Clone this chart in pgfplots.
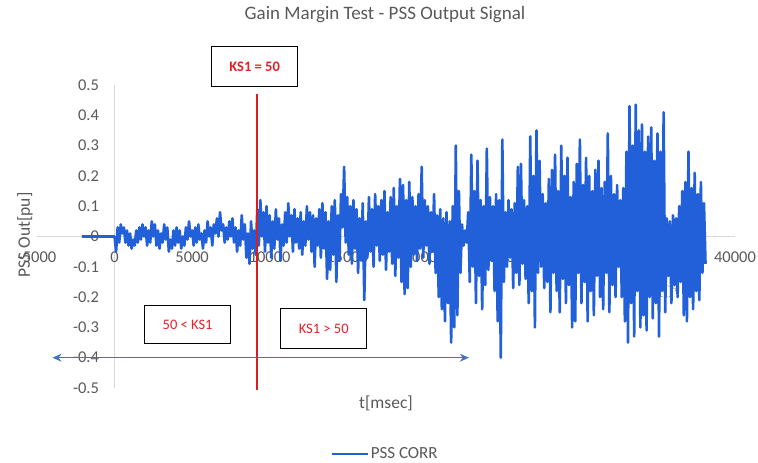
\documentclass[border=0pt]{standalone}
\usepackage{pgfplots}
\pgfplotsset{compat=1.18}
\usepackage{fontspec}
\setmainfont{Carlito}
\usetikzlibrary{arrows.meta}
\definecolor{tickgray}{HTML}{595959}
\definecolor{axisgray}{HTML}{D9D9D9}
\definecolor{sigblue}{HTML}{2160D8}
\definecolor{ksred}{HTML}{E8202A}
\definecolor{linered}{HTML}{D81E1E}
\definecolor{arrowblue}{HTML}{4472C4}
\begin{document}
\begin{tikzpicture}
\path[use as bounding box] (-37pt,-75pt) rectangle (721pt,388pt);
\begin{axis}[
  at={(0pt,0pt)}, anchor=south west,
  scale only axis, width=698pt, height=303pt,
  xmin=-5000, xmax=40000, ymin=-0.5, ymax=0.5,
  enlargelimits=false, clip=false,
  axis lines=middle,
  axis line style={-, draw=axisgray, line width=0.8pt},
  hide obscured x ticks=false, hide obscured y ticks=false,
  major tick length=0pt,
  xtick={-5000,0,5000,10000,15000,20000,25000,30000,35000,40000},
  xticklabels={-5000,0,5000,10000,15000,20000,25000,30000,35000,40000},
  ytick={-0.5,-0.4,-0.3,-0.2,-0.1,0,0.1,0.2,0.3,0.4,0.5},
  yticklabels={-0.5,-0.4,-0.3,-0.2,-0.1,0,0.1,0.2,0.3,0.4,0.5},
  tick label style={font=\fontsize{16.5}{18}\selectfont, text=tickgray},
  xticklabel style={anchor=north, yshift=-12pt},
  yticklabel style={anchor=east, xshift=-12pt},
  title={Gain Margin Test - PSS Output Signal},
  title style={at={(axis description cs:0.4986,1.214)}, anchor=center, font=\fontsize{19}{21}\selectfont, text=tickgray},
  xlabel={t[msec]},
  every axis x label/.style={at={(axis description cs:0.5,-0.0495)}, anchor=center, font=\fontsize{17.5}{19}\selectfont, text=tickgray},
  ylabel={PSS Out[pu]},
  every axis y label/.style={at={(axis description cs:-0.0172,0.505)}, anchor=center, rotate=90, font=\fontsize{17.5}{19}\selectfont, text=tickgray},
  legend style={at={(axis description cs:0.4986,-0.218)}, anchor=center, draw=none, fill=none, font=\fontsize{17}{19}\selectfont, text=tickgray},
  legend image code/.code={\draw[#1, line width=2.5pt] (0pt,0pt) -- (36pt,0pt);},
]
\addplot[sigblue, line width=2.6pt, line join=round] coordinates {
(-2100,0) (0,0)
(100,-0.05) (200,0.03) (300,-0.02) (400,0.04) (500,0.01) (600,0.03) (700,-0.02) (800,0.02) (900,-0.03) (1000,0.01)
(1100,-0.04) (1200,-0.01) (1300,-0.03) (1400,0.02) (1500,-0.02) (1600,0.03) (1700,-0.01) (1800,0.04) (1900,0.00) (2000,0.03)
(2100,-0.03) (2200,0.02) (2300,-0.02) (2400,0.05) (2500,0.00) (2600,0.04) (2700,-0.03) (2800,0.02) (2900,-0.04) (3000,0.01)
(3100,-0.02) (3200,0.04) (3300,-0.01) (3400,0.03) (3500,-0.05) (3600,-0.01) (3700,-0.04) (3800,0.02) (3900,-0.03) (4000,0.03)
(4100,-0.02) (4200,0.02) (4300,-0.04) (4400,0.00) (4500,-0.03) (4600,0.03) (4700,-0.01) (4800,0.05) (4900,0.00) (5000,0.02)
(5100,-0.03) (5200,0.03) (5300,-0.02) (5400,0.04) (5500,-0.01) (5600,0.01) (5700,-0.04) (5800,0.02) (5900,-0.02) (6000,0.05)
(6100,0.00) (6200,0.03) (6300,-0.03) (6400,0.04) (6500,0.01) (6600,0.06) (6700,0.00) (6800,0.08) (6900,0.02) (7000,0.04)
(7100,-0.02) (7200,0.03) (7300,-0.01) (7400,0.05) (7500,0.00) (7600,0.06) (7700,-0.02) (7800,0.03) (7900,-0.05) (8000,0.02)
(8100,-0.03) (8200,0.07) (8300,-0.01) (8400,0.04) (8500,-0.07) (8600,0.01) (8700,-0.09) (8800,0.05) (8900,-0.04) (9000,0.02)
(9100,-0.06) (9200,0.09) (9300,-0.03) (9400,0.12) (9500,0.00) (9600,0.08) (9700,-0.05) (9800,0.10) (9900,-0.02) (10000,0.07)
(10100,-0.07) (10200,0.05) (10300,-0.04) (10400,0.09) (10500,-0.01) (10600,0.06) (10700,-0.08) (10800,0.04) (10900,-0.03) (11000,0.08)
(11100,-0.02) (11200,0.11) (11300,0.00) (11400,0.07) (11500,-0.05) (11600,0.09) (11700,-0.02) (11800,0.06) (11900,-0.04) (12000,0.08)
(12100,-0.06) (12200,0.05) (12300,-0.03) (12400,0.10) (12500,-0.01) (12600,0.08) (12700,-0.05) (12800,0.07) (12900,-0.10) (13000,0.06)
(13100,-0.03) (13200,0.09) (13300,-0.07) (13400,0.11) (13500,-0.04) (13600,0.08) (13700,-0.14) (13800,0.05) (13900,-0.11) (14000,0.10)
(14100,-0.06) (14200,0.12) (14300,-0.15) (14400,0.07) (14500,-0.08) (14600,0.14) (14700,0.03) (14800,0.23) (14900,-0.02) (15000,0.13)
(15100,-0.06) (15200,0.10) (15300,-0.09) (15400,0.12) (15500,-0.04) (15600,0.09) (15700,-0.12) (15800,0.06) (15900,-0.08) (16000,0.11)
(16100,-0.21) (16200,0.05) (16300,-0.07) (16400,0.13) (16500,-0.05) (16600,0.09) (16700,-0.10) (16800,0.14) (16900,-0.03) (17000,0.10)
(17100,-0.08) (17200,0.12) (17300,-0.06) (17400,0.15) (17500,-0.11) (17600,0.08) (17700,-0.05) (17800,0.13) (17900,-0.09) (18000,0.16)
(18100,-0.13) (18200,0.10) (18300,-0.07) (18400,0.19) (18500,-0.15) (18600,0.17) (18700,-0.19) (18800,0.12) (18900,-0.17) (19000,0.18)
(19100,-0.10) (19200,0.13) (19300,-0.06) (19400,0.10) (19500,-0.08) (19600,0.14) (19700,-0.04) (19800,0.23) (19900,-0.07) (20000,0.12)
(20100,-0.03) (20200,0.10) (20300,-0.09) (20400,0.08) (20500,-0.05) (20600,0.14) (20700,-0.12) (20800,0.07) (20900,-0.20) (21000,0.09)
(21100,-0.24) (21200,0.06) (21300,-0.28) (21400,0.08) (21500,-0.22) (21600,0.05) (21700,-0.35) (21800,0.10) (21900,-0.30) (22000,0.30)
(22100,-0.26) (22200,0.15) (22300,-0.12) (22400,0.04) (22500,-0.03) (22600,0.02) (22700,-0.02) (22800,0.08) (22900,-0.15) (23000,0.27)
(23100,-0.10) (23200,0.15) (23300,-0.22) (23400,0.25) (23500,-0.13) (23600,0.12) (23700,-0.24) (23800,0.10) (23900,-0.16) (24000,0.29)
(24100,-0.11) (24200,0.13) (24300,-0.08) (24400,0.10) (24500,-0.18) (24600,0.14) (24700,-0.28) (24800,0.12) (24900,-0.40) (25000,0.32)
(25100,-0.15) (25200,0.08) (25300,-0.10) (25400,0.12) (25500,-0.07) (25600,0.09) (25700,-0.17) (25800,0.11) (25900,-0.12) (26000,0.23)
(26100,-0.16) (26200,0.24) (26300,-0.09) (26400,0.12) (26500,-0.14) (26600,0.10) (26700,-0.22) (26800,0.33) (26900,-0.18) (27000,0.20)
(27100,-0.30) (27200,0.35) (27300,-0.12) (27400,0.25) (27500,-0.10) (27600,0.14) (27700,-0.17) (27800,0.11) (27900,-0.15) (28000,0.19)
(28100,-0.25) (28200,0.22) (28300,-0.12) (28400,0.27) (28500,-0.18) (28600,0.15) (28700,-0.25) (28800,0.30) (28900,-0.14) (29000,0.20)
(29100,-0.22) (29200,0.26) (29300,-0.16) (29400,0.13) (29500,-0.30) (29600,0.18) (29700,-0.28) (29800,0.24) (29900,-0.12) (30000,0.32)
(30100,-0.22) (30200,0.17) (30300,-0.15) (30400,0.26) (30500,-0.28) (30600,0.20) (30700,-0.18) (30800,0.15) (30900,-0.26) (31000,0.22)
(31100,-0.13) (31200,0.25) (31300,-0.20) (31400,0.16) (31500,-0.24) (31600,0.18) (31700,-0.12) (31800,0.34) (31900,-0.25) (32000,0.20)
(32100,-0.16) (32200,0.14) (32300,-0.20) (32400,0.17) (32500,-0.10) (32600,0.12) (32700,-0.20) (32800,0.16) (32900,-0.28) (33000,0.28)
(33100,-0.35) (33200,0.43) (33300,-0.22) (33400,0.30) (33500,-0.33) (33600,0.435) (33700,-0.18) (33800,0.35) (33900,-0.30) (34000,0.37)
(34100,-0.26) (34200,0.28) (34300,-0.31) (34400,0.33) (34500,-0.20) (34600,0.36) (34700,-0.27) (34800,0.25) (34900,-0.22) (35000,0.34)
(35100,-0.33) (35200,0.28) (35300,-0.18) (35400,0.41) (35500,-0.25) (35600,0.06) (35700,-0.13) (35800,0.05) (35900,-0.22) (36000,0.07)
(36100,-0.16) (36200,0.06) (36300,-0.20) (36400,0.10) (36500,-0.15) (36600,0.15) (36700,-0.26) (36800,0.18) (36900,-0.28) (37000,0.28)
(37100,-0.20) (37200,0.16) (37300,-0.24) (37400,0.21) (37500,-0.18) (37600,0.14) (37700,-0.21) (37800,0.18) (37900,-0.12) (38000,0.11)
(38100,-0.09)
};
\addlegendentry{PSS CORR}
\draw[linered, line width=2pt] (axis cs:9160,0.47) -- (axis cs:9160,-0.505);
\draw[arrowblue, line width=1.1pt, {Stealth[length=9pt,width=8pt]}-{Stealth[length=9pt,width=8pt]}] (axis cs:-4000,-0.4) -- (axis cs:22840,-0.4);
\node[draw=black, line width=1.1pt, fill=white, minimum width=86pt, minimum height=40pt, inner sep=0pt, text=ksred, font=\fontsize{14.5}{16}\selectfont\bfseries] at (axis cs:9032,0.561) {KS1 = 50};
\node[draw=black, line width=1.1pt, fill=white, minimum width=86pt, minimum height=38pt, inner sep=0pt, text=ksred, font=\fontsize{14.5}{16}\selectfont] at (axis cs:4710,-0.290) {50 < KS1};
\node[draw=black, line width=1.1pt, fill=white, minimum width=86pt, minimum height=40pt, inner sep=0pt, text=ksred, font=\fontsize{14.5}{16}\selectfont] at (axis cs:13484,-0.304) {KS1 > 50};
\end{axis}
\end{tikzpicture}
\end{document}
